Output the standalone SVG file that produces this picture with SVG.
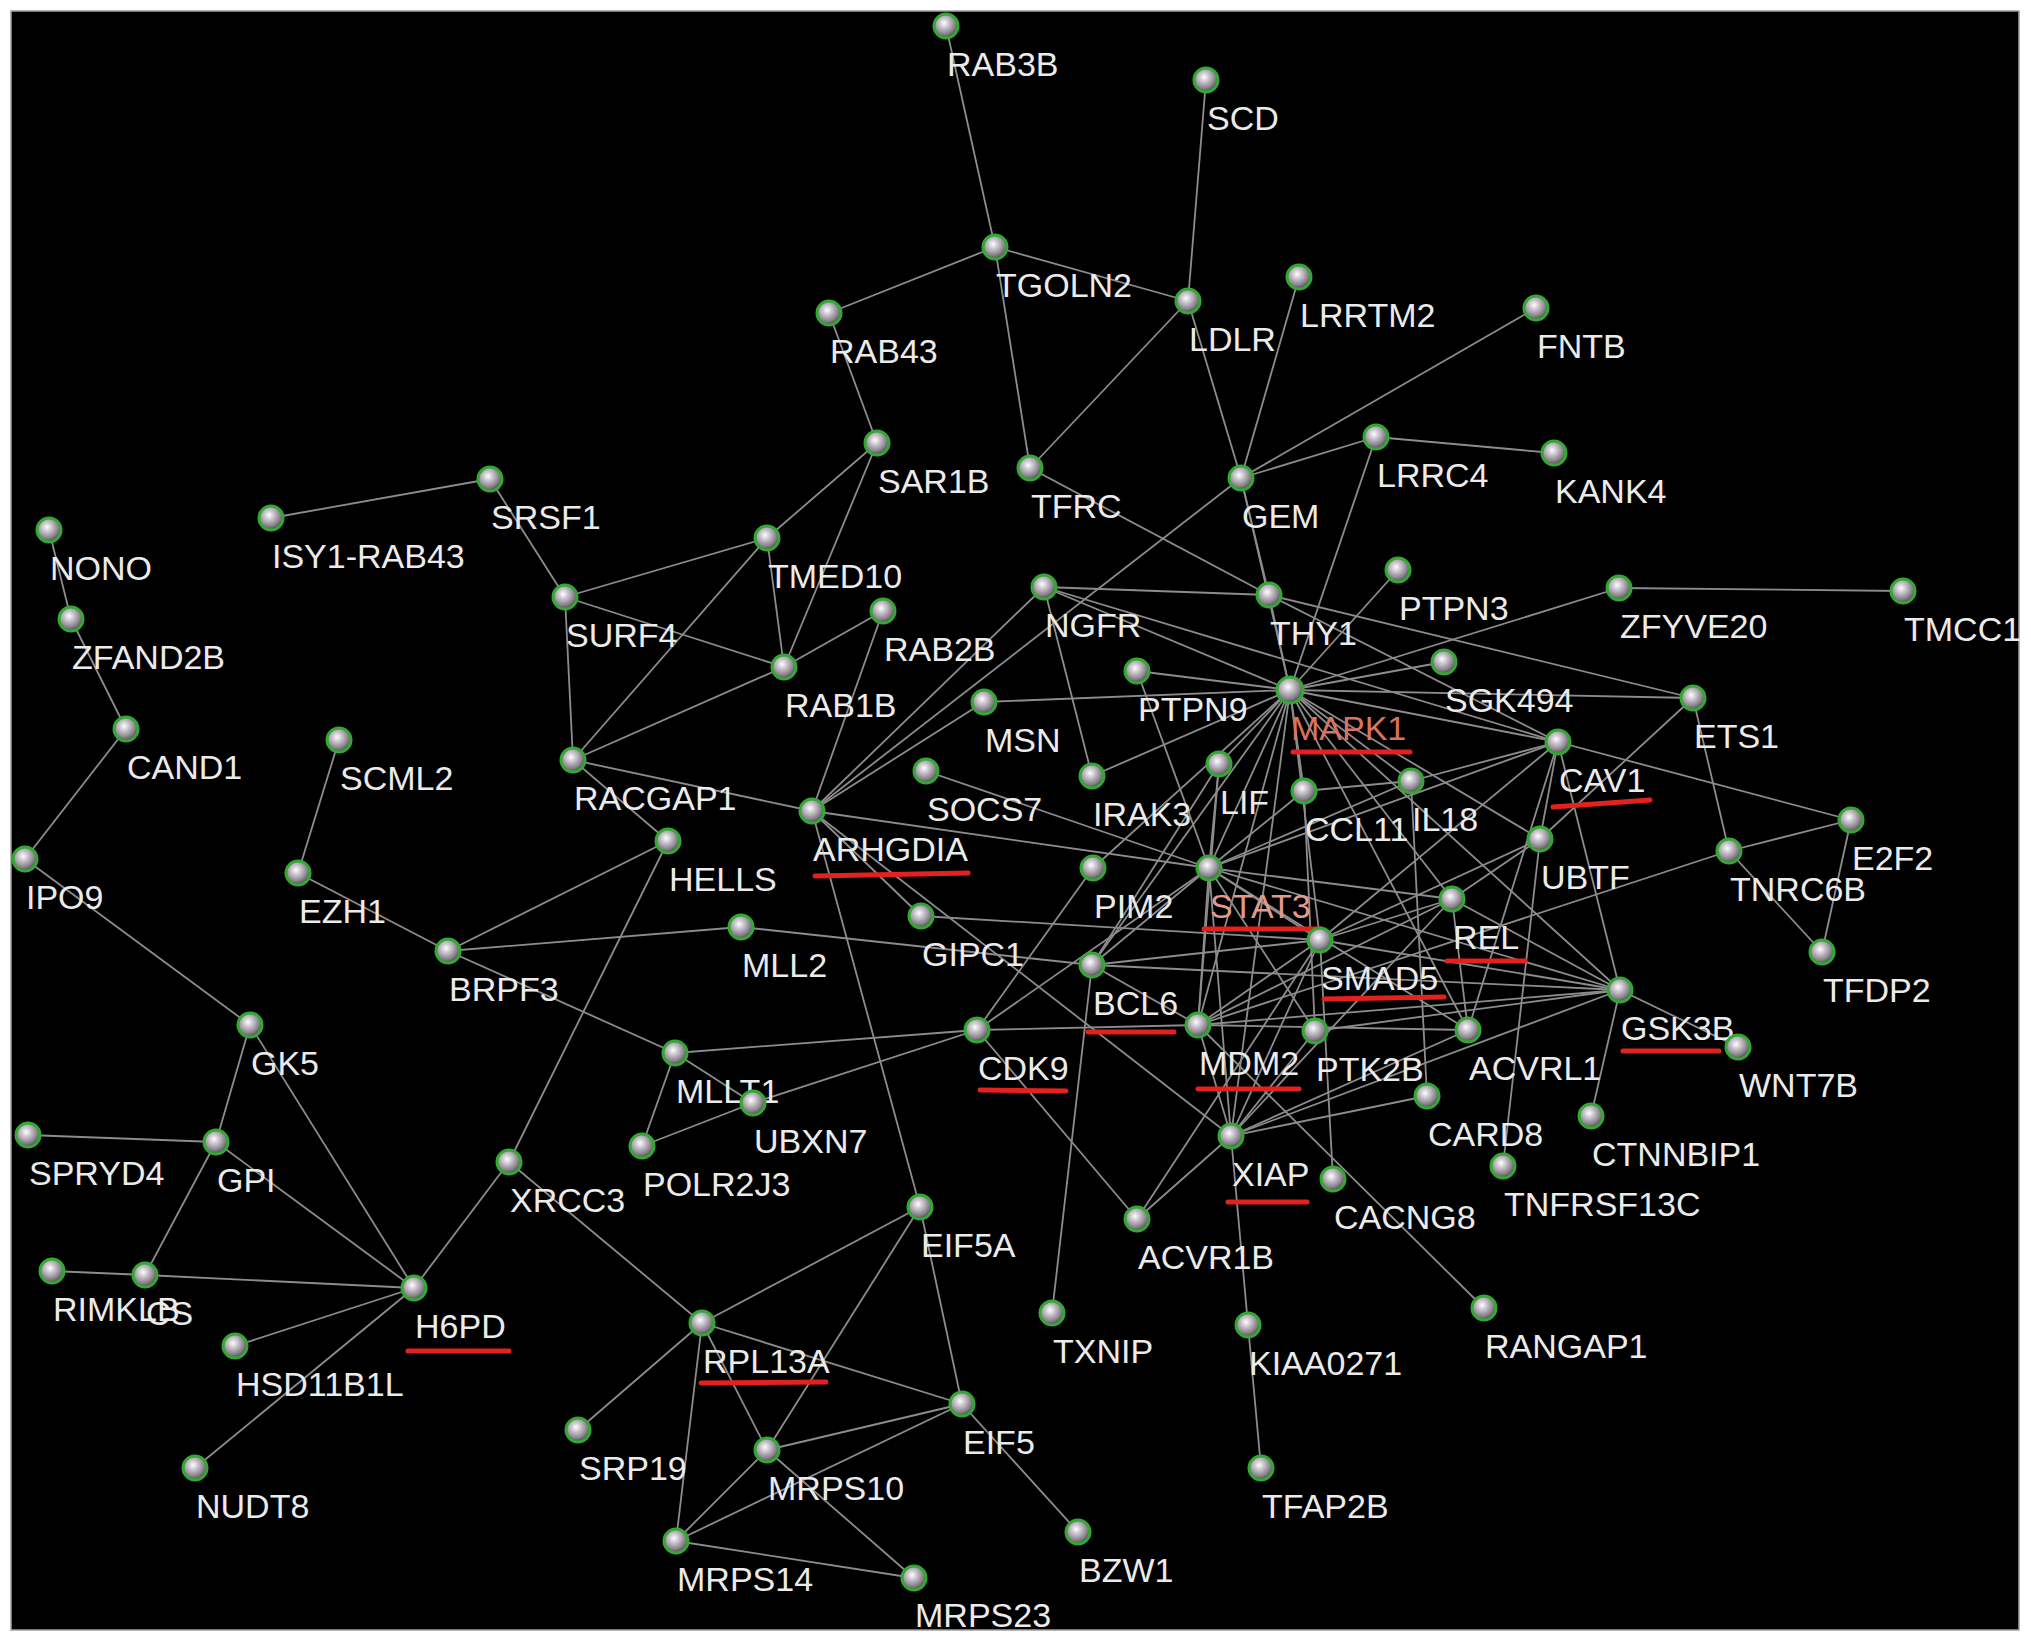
<svg xmlns="http://www.w3.org/2000/svg" width="2031" height="1643" viewBox="0 0 2031 1643">
<style>
.e line{stroke:#8c8c8c;stroke-width:1.8}
.n circle{fill:url(#ball);stroke:#34a834;stroke-width:3}
text{font-family:"Liberation Sans",Arial,sans-serif;font-size:34px;fill:#ebebeb}
.m{fill:#d9735f}
.s{fill:#e29a8c}
.u{stroke:#e3211f;stroke-width:5;stroke-linecap:round}
</style>
<defs>
<radialGradient id="ball" cx="0.42" cy="0.38" r="0.62">
<stop offset="0" stop-color="#ffffff"/>
<stop offset="0.3" stop-color="#cfc8d2"/>
<stop offset="0.75" stop-color="#858188"/>
<stop offset="1" stop-color="#4a4a4a"/>
</radialGradient>
</defs>
<rect x="0" y="0" width="2031" height="1643" fill="#ffffff"/>
<rect x="11" y="11" width="2008" height="1619" fill="#000000" stroke="#a0a0a0" stroke-width="1.5"/>
<g id="connectors" class="e">
<line x1="946" y1="26" x2="995" y2="247"/>
<line x1="995" y1="247" x2="829" y2="313"/>
<line x1="995" y1="247" x2="1188" y2="301"/>
<line x1="995" y1="247" x2="1030" y2="468"/>
<line x1="1206" y1="80" x2="1188" y2="301"/>
<line x1="1188" y1="301" x2="1030" y2="468"/>
<line x1="1188" y1="301" x2="1241" y2="478"/>
<line x1="1299" y1="277" x2="1241" y2="478"/>
<line x1="1536" y1="308" x2="1241" y2="478"/>
<line x1="1376" y1="437" x2="1241" y2="478"/>
<line x1="1376" y1="437" x2="1554" y2="453"/>
<line x1="1376" y1="437" x2="1290" y2="690"/>
<line x1="1241" y1="478" x2="1269" y2="595"/>
<line x1="1241" y1="478" x2="1290" y2="690"/>
<line x1="1241" y1="478" x2="812" y2="811"/>
<line x1="1030" y1="468" x2="1269" y2="595"/>
<line x1="829" y1="313" x2="877" y2="443"/>
<line x1="877" y1="443" x2="767" y2="538"/>
<line x1="877" y1="443" x2="784" y2="667"/>
<line x1="490" y1="479" x2="271" y2="518"/>
<line x1="490" y1="479" x2="565" y2="597"/>
<line x1="565" y1="597" x2="767" y2="538"/>
<line x1="565" y1="597" x2="784" y2="667"/>
<line x1="565" y1="597" x2="573" y2="760"/>
<line x1="767" y1="538" x2="784" y2="667"/>
<line x1="767" y1="538" x2="573" y2="760"/>
<line x1="784" y1="667" x2="573" y2="760"/>
<line x1="784" y1="667" x2="883" y2="611"/>
<line x1="883" y1="611" x2="812" y2="811"/>
<line x1="573" y1="760" x2="812" y2="811"/>
<line x1="573" y1="760" x2="668" y2="841"/>
<line x1="49" y1="530" x2="71" y2="619"/>
<line x1="71" y1="619" x2="126" y2="729"/>
<line x1="126" y1="729" x2="25" y2="859"/>
<line x1="25" y1="859" x2="250" y2="1025"/>
<line x1="339" y1="740" x2="298" y2="873"/>
<line x1="298" y1="873" x2="448" y2="951"/>
<line x1="448" y1="951" x2="668" y2="841"/>
<line x1="448" y1="951" x2="741" y2="927"/>
<line x1="448" y1="951" x2="675" y2="1053"/>
<line x1="668" y1="841" x2="509" y2="1162"/>
<line x1="509" y1="1162" x2="414" y2="1288"/>
<line x1="509" y1="1162" x2="702" y2="1323"/>
<line x1="250" y1="1025" x2="216" y2="1142"/>
<line x1="250" y1="1025" x2="414" y2="1288"/>
<line x1="28" y1="1135" x2="216" y2="1142"/>
<line x1="216" y1="1142" x2="145" y2="1275"/>
<line x1="216" y1="1142" x2="414" y2="1288"/>
<line x1="52" y1="1271" x2="145" y2="1275"/>
<line x1="145" y1="1275" x2="414" y2="1288"/>
<line x1="235" y1="1346" x2="414" y2="1288"/>
<line x1="195" y1="1468" x2="414" y2="1288"/>
<line x1="675" y1="1053" x2="977" y2="1030"/>
<line x1="675" y1="1053" x2="753" y2="1103"/>
<line x1="675" y1="1053" x2="642" y2="1146"/>
<line x1="642" y1="1146" x2="753" y2="1103"/>
<line x1="753" y1="1103" x2="977" y2="1030"/>
<line x1="741" y1="927" x2="1092" y2="965"/>
<line x1="812" y1="811" x2="1044" y2="587"/>
<line x1="812" y1="811" x2="984" y2="702"/>
<line x1="812" y1="811" x2="1209" y2="868"/>
<line x1="812" y1="811" x2="921" y2="916"/>
<line x1="812" y1="811" x2="1231" y2="1136"/>
<line x1="812" y1="811" x2="920" y2="1207"/>
<line x1="921" y1="916" x2="1320" y2="940"/>
<line x1="926" y1="771" x2="1209" y2="868"/>
<line x1="984" y1="702" x2="1290" y2="690"/>
<line x1="1044" y1="587" x2="1269" y2="595"/>
<line x1="1044" y1="587" x2="1290" y2="690"/>
<line x1="1044" y1="587" x2="1558" y2="742"/>
<line x1="1044" y1="587" x2="1092" y2="776"/>
<line x1="1269" y1="595" x2="1290" y2="690"/>
<line x1="1269" y1="595" x2="1693" y2="698"/>
<line x1="1269" y1="595" x2="1558" y2="742"/>
<line x1="1398" y1="570" x2="1290" y2="690"/>
<line x1="1290" y1="690" x2="1619" y2="588"/>
<line x1="1619" y1="588" x2="1903" y2="591"/>
<line x1="1290" y1="690" x2="1444" y2="662"/>
<line x1="1290" y1="690" x2="1693" y2="698"/>
<line x1="1290" y1="690" x2="1558" y2="742"/>
<line x1="1290" y1="690" x2="1137" y2="671"/>
<line x1="1137" y1="671" x2="1209" y2="868"/>
<line x1="1290" y1="690" x2="1092" y2="776"/>
<line x1="1290" y1="690" x2="1219" y2="764"/>
<line x1="1290" y1="690" x2="1209" y2="868"/>
<line x1="1290" y1="690" x2="1304" y2="791"/>
<line x1="1304" y1="791" x2="1315" y2="1031"/>
<line x1="1304" y1="791" x2="1411" y2="781"/>
<line x1="1290" y1="690" x2="1411" y2="781"/>
<line x1="1290" y1="690" x2="1540" y2="839"/>
<line x1="1290" y1="690" x2="1452" y2="899"/>
<line x1="1290" y1="690" x2="1320" y2="940"/>
<line x1="1290" y1="690" x2="1620" y2="990"/>
<line x1="1290" y1="690" x2="1198" y2="1025"/>
<line x1="1290" y1="690" x2="1231" y2="1136"/>
<line x1="1290" y1="690" x2="1092" y2="965"/>
<line x1="1290" y1="690" x2="1093" y2="868"/>
<line x1="1290" y1="690" x2="1468" y2="1030"/>
<line x1="1219" y1="764" x2="1209" y2="868"/>
<line x1="1219" y1="764" x2="1092" y2="965"/>
<line x1="1219" y1="764" x2="1198" y2="1025"/>
<line x1="1209" y1="868" x2="1304" y2="791"/>
<line x1="1209" y1="868" x2="1411" y2="781"/>
<line x1="1209" y1="868" x2="1558" y2="742"/>
<line x1="1209" y1="868" x2="1452" y2="899"/>
<line x1="1209" y1="868" x2="1320" y2="940"/>
<line x1="1209" y1="868" x2="1620" y2="990"/>
<line x1="1209" y1="868" x2="1092" y2="965"/>
<line x1="1209" y1="868" x2="1198" y2="1025"/>
<line x1="1209" y1="868" x2="1231" y2="1136"/>
<line x1="1209" y1="868" x2="1315" y2="1031"/>
<line x1="1209" y1="868" x2="977" y2="1030"/>
<line x1="1209" y1="868" x2="1468" y2="1030"/>
<line x1="1411" y1="781" x2="1558" y2="742"/>
<line x1="1411" y1="781" x2="1427" y2="1096"/>
<line x1="1693" y1="698" x2="1540" y2="839"/>
<line x1="1693" y1="698" x2="1729" y2="851"/>
<line x1="1558" y1="742" x2="1851" y2="820"/>
<line x1="1558" y1="742" x2="1620" y2="990"/>
<line x1="1558" y1="742" x2="1540" y2="839"/>
<line x1="1558" y1="742" x2="1320" y2="940"/>
<line x1="1558" y1="742" x2="1468" y2="1030"/>
<line x1="1729" y1="851" x2="1851" y2="820"/>
<line x1="1729" y1="851" x2="1822" y2="952"/>
<line x1="1851" y1="820" x2="1822" y2="952"/>
<line x1="1729" y1="851" x2="1198" y2="1025"/>
<line x1="1620" y1="990" x2="1738" y2="1047"/>
<line x1="1620" y1="990" x2="1591" y2="1116"/>
<line x1="1620" y1="990" x2="1320" y2="940"/>
<line x1="1620" y1="990" x2="1198" y2="1025"/>
<line x1="1620" y1="990" x2="1231" y2="1136"/>
<line x1="1620" y1="990" x2="1315" y2="1031"/>
<line x1="1620" y1="990" x2="1092" y2="965"/>
<line x1="1620" y1="990" x2="1452" y2="899"/>
<line x1="1320" y1="940" x2="1540" y2="839"/>
<line x1="1320" y1="940" x2="1452" y2="899"/>
<line x1="1320" y1="940" x2="1092" y2="965"/>
<line x1="1320" y1="940" x2="1198" y2="1025"/>
<line x1="1320" y1="940" x2="1231" y2="1136"/>
<line x1="1320" y1="940" x2="1137" y2="1219"/>
<line x1="1320" y1="940" x2="1333" y2="1179"/>
<line x1="1452" y1="899" x2="1540" y2="839"/>
<line x1="1452" y1="899" x2="1468" y2="1030"/>
<line x1="1452" y1="899" x2="1198" y2="1025"/>
<line x1="1452" y1="899" x2="1231" y2="1136"/>
<line x1="1092" y1="965" x2="1198" y2="1025"/>
<line x1="1092" y1="965" x2="1052" y2="1313"/>
<line x1="977" y1="1030" x2="1198" y2="1025"/>
<line x1="977" y1="1030" x2="1137" y2="1219"/>
<line x1="1093" y1="868" x2="977" y2="1030"/>
<line x1="1198" y1="1025" x2="1231" y2="1136"/>
<line x1="1198" y1="1025" x2="1484" y2="1308"/>
<line x1="1198" y1="1025" x2="1468" y2="1030"/>
<line x1="1231" y1="1136" x2="1137" y2="1219"/>
<line x1="1231" y1="1136" x2="1248" y2="1325"/>
<line x1="1248" y1="1325" x2="1261" y2="1468"/>
<line x1="1231" y1="1136" x2="1427" y2="1096"/>
<line x1="1231" y1="1136" x2="1468" y2="1030"/>
<line x1="1231" y1="1136" x2="1315" y2="1031"/>
<line x1="1540" y1="839" x2="1503" y2="1166"/>
<line x1="702" y1="1323" x2="920" y2="1207"/>
<line x1="702" y1="1323" x2="962" y2="1404"/>
<line x1="702" y1="1323" x2="578" y2="1430"/>
<line x1="702" y1="1323" x2="767" y2="1450"/>
<line x1="702" y1="1323" x2="676" y2="1541"/>
<line x1="920" y1="1207" x2="767" y2="1450"/>
<line x1="920" y1="1207" x2="962" y2="1404"/>
<line x1="962" y1="1404" x2="767" y2="1450"/>
<line x1="962" y1="1404" x2="676" y2="1541"/>
<line x1="962" y1="1404" x2="1078" y2="1532"/>
<line x1="767" y1="1450" x2="676" y2="1541"/>
<line x1="767" y1="1450" x2="914" y2="1578"/>
<line x1="676" y1="1541" x2="914" y2="1578"/>
</g>
<g id="nodes" class="n">
<g id="n-RAB3B"><circle cx="946" cy="26" r="12"/><text x="947" y="76">RAB3B</text></g>
<g id="n-SCD"><circle cx="1206" cy="80" r="12"/><text x="1207" y="130">SCD</text></g>
<g id="n-TGOLN2"><circle cx="995" cy="247" r="12"/><text x="996" y="297">TGOLN2</text></g>
<g id="n-LDLR"><circle cx="1188" cy="301" r="12"/><text x="1189" y="351">LDLR</text></g>
<g id="n-LRRTM2"><circle cx="1299" cy="277" r="12"/><text x="1300" y="327">LRRTM2</text></g>
<g id="n-FNTB"><circle cx="1536" cy="308" r="12"/><text x="1537" y="358">FNTB</text></g>
<g id="n-RAB43"><circle cx="829" cy="313" r="12"/><text x="830" y="363">RAB43</text></g>
<g id="n-SAR1B"><circle cx="877" cy="443" r="12"/><text x="878" y="493">SAR1B</text></g>
<g id="n-TFRC"><circle cx="1030" cy="468" r="12"/><text x="1031" y="518">TFRC</text></g>
<g id="n-GEM"><circle cx="1241" cy="478" r="12"/><text x="1242" y="528">GEM</text></g>
<g id="n-LRRC4"><circle cx="1376" cy="437" r="12"/><text x="1377" y="487">LRRC4</text></g>
<g id="n-KANK4"><circle cx="1554" cy="453" r="12"/><text x="1555" y="503">KANK4</text></g>
<g id="n-SRSF1"><circle cx="490" cy="479" r="12"/><text x="491" y="529">SRSF1</text></g>
<g id="n-ISY1-RAB43"><circle cx="271" cy="518" r="12"/><text x="272" y="568">ISY1-RAB43</text></g>
<g id="n-NONO"><circle cx="49" cy="530" r="12"/><text x="50" y="580">NONO</text></g>
<g id="n-ZFAND2B"><circle cx="71" cy="619" r="12"/><text x="72" y="669">ZFAND2B</text></g>
<g id="n-CAND1"><circle cx="126" cy="729" r="12"/><text x="127" y="779">CAND1</text></g>
<g id="n-IPO9"><circle cx="25" cy="859" r="12"/><text x="26" y="909">IPO9</text></g>
<g id="n-SURF4"><circle cx="565" cy="597" r="12"/><text x="566" y="647">SURF4</text></g>
<g id="n-TMED10"><circle cx="767" cy="538" r="12"/><text x="768" y="588">TMED10</text></g>
<g id="n-RAB2B"><circle cx="883" cy="611" r="12"/><text x="884" y="661">RAB2B</text></g>
<g id="n-RAB1B"><circle cx="784" cy="667" r="12"/><text x="785" y="717">RAB1B</text></g>
<g id="n-NGFR"><circle cx="1044" cy="587" r="12"/><text x="1045" y="637">NGFR</text></g>
<g id="n-THY1"><circle cx="1269" cy="595" r="12"/><text x="1270" y="645">THY1</text></g>
<g id="n-PTPN3"><circle cx="1398" cy="570" r="12"/><text x="1399" y="620">PTPN3</text></g>
<g id="n-ZFYVE20"><circle cx="1619" cy="588" r="12"/><text x="1620" y="638">ZFYVE20</text></g>
<g id="n-TMCC1"><circle cx="1903" cy="591" r="12"/><text x="1904" y="641">TMCC1</text></g>
<g id="n-SGK494"><circle cx="1444" cy="662" r="12"/><text x="1445" y="712">SGK494</text></g>
<g id="n-ETS1"><circle cx="1693" cy="698" r="12"/><text x="1694" y="748">ETS1</text></g>
<g id="n-MAPK1"><circle cx="1290" cy="690" r="13"/><text class="m" x="1291" y="740">MAPK1</text><line class="u" x1="1293" y1="752" x2="1410" y2="752"/></g>
<g id="n-PTPN9"><circle cx="1137" cy="671" r="12"/><text x="1138" y="721">PTPN9</text></g>
<g id="n-MSN"><circle cx="984" cy="702" r="12"/><text x="985" y="752">MSN</text></g>
<g id="n-CAV1"><circle cx="1558" cy="742" r="12"/><text x="1559" y="792">CAV1</text><line class="u" x1="1553" y1="807" x2="1650" y2="800"/></g>
<g id="n-SCML2"><circle cx="339" cy="740" r="12"/><text x="340" y="790">SCML2</text></g>
<g id="n-RACGAP1"><circle cx="573" cy="760" r="12"/><text x="574" y="810">RACGAP1</text></g>
<g id="n-SOCS7"><circle cx="926" cy="771" r="12"/><text x="927" y="821">SOCS7</text></g>
<g id="n-IRAK3"><circle cx="1092" cy="776" r="12"/><text x="1093" y="826">IRAK3</text></g>
<g id="n-LIF"><circle cx="1219" cy="764" r="12"/><text x="1220" y="814">LIF</text></g>
<g id="n-CCL11"><circle cx="1304" cy="791" r="12"/><text x="1305" y="841">CCL11</text></g>
<g id="n-IL18"><circle cx="1411" cy="781" r="12"/><text x="1412" y="831">IL18</text></g>
<g id="n-E2F2"><circle cx="1851" cy="820" r="12"/><text x="1852" y="870">E2F2</text></g>
<g id="n-ARHGDIA"><circle cx="812" cy="811" r="12"/><text x="813" y="861">ARHGDIA</text><line class="u" x1="815" y1="876" x2="968" y2="873"/></g>
<g id="n-HELLS"><circle cx="668" cy="841" r="12"/><text x="669" y="891">HELLS</text></g>
<g id="n-UBTF"><circle cx="1540" cy="839" r="12"/><text x="1541" y="889">UBTF</text></g>
<g id="n-TNRC6B"><circle cx="1729" cy="851" r="12"/><text x="1730" y="901">TNRC6B</text></g>
<g id="n-EZH1"><circle cx="298" cy="873" r="12"/><text x="299" y="923">EZH1</text></g>
<g id="n-PIM2"><circle cx="1093" cy="868" r="12"/><text x="1094" y="918">PIM2</text></g>
<g id="n-STAT3"><circle cx="1209" cy="868" r="12"/><text class="s" x="1210" y="918">STAT3</text><line class="u" x1="1204" y1="929" x2="1321" y2="929"/></g>
<g id="n-REL"><circle cx="1452" cy="899" r="12"/><text x="1453" y="949">REL</text><line class="u" x1="1447" y1="961" x2="1525" y2="961"/></g>
<g id="n-GIPC1"><circle cx="921" cy="916" r="12"/><text x="922" y="966">GIPC1</text></g>
<g id="n-MLL2"><circle cx="741" cy="927" r="12"/><text x="742" y="977">MLL2</text></g>
<g id="n-BRPF3"><circle cx="448" cy="951" r="12"/><text x="449" y="1001">BRPF3</text></g>
<g id="n-SMAD5"><circle cx="1320" cy="940" r="12"/><text x="1321" y="990">SMAD5</text><line class="u" x1="1324" y1="999" x2="1444" y2="997"/></g>
<g id="n-TFDP2"><circle cx="1822" cy="952" r="12"/><text x="1823" y="1002">TFDP2</text></g>
<g id="n-BCL6"><circle cx="1092" cy="965" r="12"/><text x="1093" y="1015">BCL6</text><line class="u" x1="1088" y1="1032" x2="1174" y2="1032"/></g>
<g id="n-GSK3B"><circle cx="1620" cy="990" r="12"/><text x="1621" y="1040">GSK3B</text><line class="u" x1="1623" y1="1051" x2="1719" y2="1051"/></g>
<g id="n-WNT7B"><circle cx="1738" cy="1047" r="12"/><text x="1739" y="1097">WNT7B</text></g>
<g id="n-GK5"><circle cx="250" cy="1025" r="12"/><text x="251" y="1075">GK5</text></g>
<g id="n-CDK9"><circle cx="977" cy="1030" r="12"/><text x="978" y="1080">CDK9</text><line class="u" x1="980" y1="1090" x2="1066" y2="1091"/></g>
<g id="n-MDM2"><circle cx="1198" cy="1025" r="12"/><text x="1199" y="1075">MDM2</text><line class="u" x1="1198" y1="1089" x2="1299" y2="1089"/></g>
<g id="n-PTK2B"><circle cx="1315" cy="1031" r="12"/><text x="1316" y="1081">PTK2B</text></g>
<g id="n-ACVRL1"><circle cx="1468" cy="1030" r="12"/><text x="1469" y="1080">ACVRL1</text></g>
<g id="n-MLLT1"><circle cx="675" cy="1053" r="12"/><text x="676" y="1103">MLLT1</text></g>
<g id="n-UBXN7"><circle cx="753" cy="1103" r="12"/><text x="754" y="1153">UBXN7</text></g>
<g id="n-CARD8"><circle cx="1427" cy="1096" r="12"/><text x="1428" y="1146">CARD8</text></g>
<g id="n-CTNNBIP1"><circle cx="1591" cy="1116" r="12"/><text x="1592" y="1166">CTNNBIP1</text></g>
<g id="n-SPRYD4"><circle cx="28" cy="1135" r="12"/><text x="29" y="1185">SPRYD4</text></g>
<g id="n-GPI"><circle cx="216" cy="1142" r="12"/><text x="217" y="1192">GPI</text></g>
<g id="n-POLR2J3"><circle cx="642" cy="1146" r="12"/><text x="643" y="1196">POLR2J3</text></g>
<g id="n-XIAP"><circle cx="1231" cy="1136" r="12"/><text x="1232" y="1186">XIAP</text><line class="u" x1="1228" y1="1202" x2="1307" y2="1202"/></g>
<g id="n-TNFRSF13C"><circle cx="1503" cy="1166" r="12"/><text x="1504" y="1216">TNFRSF13C</text></g>
<g id="n-XRCC3"><circle cx="509" cy="1162" r="12"/><text x="510" y="1212">XRCC3</text></g>
<g id="n-CACNG8"><circle cx="1333" cy="1179" r="12"/><text x="1334" y="1229">CACNG8</text></g>
<g id="n-EIF5A"><circle cx="920" cy="1207" r="12"/><text x="921" y="1257">EIF5A</text></g>
<g id="n-ACVR1B"><circle cx="1137" cy="1219" r="12"/><text x="1138" y="1269">ACVR1B</text></g>
<g id="n-RIMKLB"><circle cx="52" cy="1271" r="12"/><text x="53" y="1321">RIMKLB</text></g>
<g id="n-CS"><circle cx="145" cy="1275" r="12"/><text x="146" y="1325">CS</text></g>
<g id="n-H6PD"><circle cx="414" cy="1288" r="12"/><text x="415" y="1338">H6PD</text><line class="u" x1="408" y1="1351" x2="509" y2="1351"/></g>
<g id="n-HSD11B1L"><circle cx="235" cy="1346" r="12"/><text x="236" y="1396">HSD11B1L</text></g>
<g id="n-TXNIP"><circle cx="1052" cy="1313" r="12"/><text x="1053" y="1363">TXNIP</text></g>
<g id="n-KIAA0271"><circle cx="1248" cy="1325" r="12"/><text x="1249" y="1375">KIAA0271</text></g>
<g id="n-RANGAP1"><circle cx="1484" cy="1308" r="12"/><text x="1485" y="1358">RANGAP1</text></g>
<g id="n-RPL13A"><circle cx="702" cy="1323" r="12"/><text x="703" y="1373">RPL13A</text><line class="u" x1="701" y1="1383" x2="826" y2="1382"/></g>
<g id="n-EIF5"><circle cx="962" cy="1404" r="12"/><text x="963" y="1454">EIF5</text></g>
<g id="n-SRP19"><circle cx="578" cy="1430" r="12"/><text x="579" y="1480">SRP19</text></g>
<g id="n-MRPS10"><circle cx="767" cy="1450" r="12"/><text x="768" y="1500">MRPS10</text></g>
<g id="n-NUDT8"><circle cx="195" cy="1468" r="12"/><text x="196" y="1518">NUDT8</text></g>
<g id="n-TFAP2B"><circle cx="1261" cy="1468" r="12"/><text x="1262" y="1518">TFAP2B</text></g>
<g id="n-BZW1"><circle cx="1078" cy="1532" r="12"/><text x="1079" y="1582">BZW1</text></g>
<g id="n-MRPS14"><circle cx="676" cy="1541" r="12"/><text x="677" y="1591">MRPS14</text></g>
<g id="n-MRPS23"><circle cx="914" cy="1578" r="12"/><text x="915" y="1627">MRPS23</text></g>
</g>
</svg>
